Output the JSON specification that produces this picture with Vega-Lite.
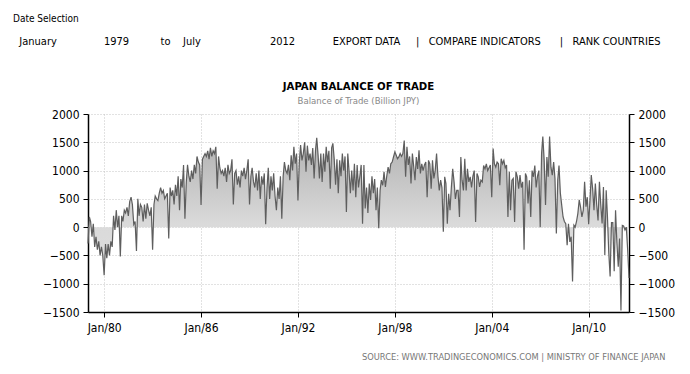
{
  "$schema": "https://vega.github.io/schema/vega-lite/v6.json",
  "background": "white",
  "padding": {"left": 13, "top": 14, "right": 5, "bottom": 5},
  "title": {
    "text": "Date Selection",
    "subtitle": "\u200b\u00a0\u00a0January\u00a0\u00a0\u00a0\u00a0\u00a0\u00a0\u00a0\u00a0\u00a0\u00a0\u00a0\u00a0\u00a0\u00a0\u00a01979\u00a0\u00a0\u00a0\u00a0\u00a0\u00a0\u00a0\u00a0\u00a0\u00a0to\u00a0\u00a0\u00a0\u00a0July\u00a0\u00a0\u00a0\u00a0\u00a0\u00a0\u00a0\u00a0\u00a0\u00a0\u00a0\u00a0\u00a0\u00a0\u00a0\u00a0\u00a0\u00a0\u00a0\u00a0\u00a0\u00a02012\u00a0\u00a0\u00a0\u00a0\u00a0\u00a0\u00a0\u00a0\u00a0\u00a0\u00a0\u00a0EXPORT DATA\u00a0\u00a0\u00a0\u00a0\u00a0|\u00a0\u00a0\u00a0COMPARE INDICATORS\u00a0\u00a0\u00a0\u00a0\u00a0\u00a0|\u00a0\u00a0\u00a0RANK COUNTRIES",
    "anchor": "start",
    "frame": "bounds",
    "font": "Tahoma, DejaVu Sans Condensed, Liberation Sans, sans-serif",
    "fontSize": 10,
    "fontWeight": "normal",
    "color": "#000",
    "subtitleFont": "Tahoma, DejaVu Sans Condensed, Liberation Sans, sans-serif",
    "subtitleFontSize": 11,
    "subtitleColor": "#000",
    "subtitlePadding": 12,
    "offset": 34
  },
  "datasets": {
    "trade": [
      {"m":"1979-01","v":-290},{"m":"1979-02","v":180},{"m":"1979-03","v":100},{"m":"1979-04","v":-170},{"m":"1979-05","v":60},{"m":"1979-06","v":-350},{"m":"1979-07","v":-170},{"m":"1979-08","v":-400},{"m":"1979-09","v":-250},{"m":"1979-10","v":-500},{"m":"1979-11","v":-350},{"m":"1979-12","v":-500},
      {"m":"1980-01","v":-850},{"m":"1980-02","v":-300},{"m":"1980-03","v":-550},{"m":"1980-04","v":-300},{"m":"1980-05","v":-500},{"m":"1980-06","v":-250},{"m":"1980-07","v":-350},{"m":"1980-08","v":200},{"m":"1980-09","v":-50},{"m":"1980-10","v":300},{"m":"1980-11","v":0},{"m":"1980-12","v":200},
      {"m":"1981-01","v":-520},{"m":"1981-02","v":200},{"m":"1981-03","v":100},{"m":"1981-04","v":300},{"m":"1981-05","v":250},{"m":"1981-06","v":350},{"m":"1981-07","v":200},{"m":"1981-08","v":450},{"m":"1981-09","v":530},{"m":"1981-10","v":400},{"m":"1981-11","v":50},{"m":"1981-12","v":100},
      {"m":"1982-01","v":-420},{"m":"1982-02","v":500},{"m":"1982-03","v":200},{"m":"1982-04","v":400},{"m":"1982-05","v":350},{"m":"1982-06","v":100},{"m":"1982-07","v":400},{"m":"1982-08","v":150},{"m":"1982-09","v":420},{"m":"1982-10","v":300},{"m":"1982-11","v":200},{"m":"1982-12","v":350},
      {"m":"1983-01","v":-400},{"m":"1983-02","v":400},{"m":"1983-03","v":550},{"m":"1983-04","v":500},{"m":"1983-05","v":470},{"m":"1983-06","v":600},{"m":"1983-07","v":700},{"m":"1983-08","v":600},{"m":"1983-09","v":650},{"m":"1983-10","v":500},{"m":"1983-11","v":550},{"m":"1983-12","v":600},
      {"m":"1984-01","v":-200},{"m":"1984-02","v":700},{"m":"1984-03","v":550},{"m":"1984-04","v":650},{"m":"1984-05","v":400},{"m":"1984-06","v":750},{"m":"1984-07","v":550},{"m":"1984-08","v":900},{"m":"1984-09","v":300},{"m":"1984-10","v":850},{"m":"1984-11","v":700},{"m":"1984-12","v":1100},
      {"m":"1985-01","v":150},{"m":"1985-02","v":800},{"m":"1985-03","v":1100},{"m":"1985-04","v":900},{"m":"1985-05","v":800},{"m":"1985-06","v":1000},{"m":"1985-07","v":850},{"m":"1985-08","v":1100},{"m":"1985-09","v":950},{"m":"1985-10","v":1250},{"m":"1985-11","v":1150},{"m":"1985-12","v":1100},
      {"m":"1986-01","v":390},{"m":"1986-02","v":1200},{"m":"1986-03","v":1250},{"m":"1986-04","v":1300},{"m":"1986-05","v":1250},{"m":"1986-06","v":1350},{"m":"1986-07","v":1200},{"m":"1986-08","v":1400},{"m":"1986-09","v":1250},{"m":"1986-10","v":1350},{"m":"1986-11","v":1300},{"m":"1986-12","v":1420},
      {"m":"1987-01","v":680},{"m":"1987-02","v":1250},{"m":"1987-03","v":1050},{"m":"1987-04","v":950},{"m":"1987-05","v":1000},{"m":"1987-06","v":900},{"m":"1987-07","v":1050},{"m":"1987-08","v":800},{"m":"1987-09","v":1100},{"m":"1987-10","v":950},{"m":"1987-11","v":1000},{"m":"1987-12","v":1200},
      {"m":"1988-01","v":400},{"m":"1988-02","v":950},{"m":"1988-03","v":1000},{"m":"1988-04","v":750},{"m":"1988-05","v":900},{"m":"1988-06","v":700},{"m":"1988-07","v":1000},{"m":"1988-08","v":900},{"m":"1988-09","v":1050},{"m":"1988-10","v":850},{"m":"1988-11","v":1000},{"m":"1988-12","v":1200},
      {"m":"1989-01","v":400},{"m":"1989-02","v":900},{"m":"1989-03","v":1050},{"m":"1989-04","v":800},{"m":"1989-05","v":700},{"m":"1989-06","v":950},{"m":"1989-07","v":650},{"m":"1989-08","v":1000},{"m":"1989-09","v":500},{"m":"1989-10","v":900},{"m":"1989-11","v":750},{"m":"1989-12","v":950},
      {"m":"1990-01","v":50},{"m":"1990-02","v":700},{"m":"1990-03","v":1050},{"m":"1990-04","v":500},{"m":"1990-05","v":900},{"m":"1990-06","v":650},{"m":"1990-07","v":950},{"m":"1990-08","v":550},{"m":"1990-09","v":300},{"m":"1990-10","v":700},{"m":"1990-11","v":500},{"m":"1990-12","v":900},
      {"m":"1991-01","v":150},{"m":"1991-02","v":900},{"m":"1991-03","v":1150},{"m":"1991-04","v":1000},{"m":"1991-05","v":950},{"m":"1991-06","v":1100},{"m":"1991-07","v":830},{"m":"1991-08","v":1270},{"m":"1991-09","v":1000},{"m":"1991-10","v":1420},{"m":"1991-11","v":1120},{"m":"1991-12","v":1300},
      {"m":"1992-01","v":470},{"m":"1992-02","v":1150},{"m":"1992-03","v":1450},{"m":"1992-04","v":1180},{"m":"1992-05","v":1300},{"m":"1992-06","v":1500},{"m":"1992-07","v":980},{"m":"1992-08","v":1440},{"m":"1992-09","v":1180},{"m":"1992-10","v":1300},{"m":"1992-11","v":1100},{"m":"1992-12","v":1400},
      {"m":"1993-01","v":860},{"m":"1993-02","v":1360},{"m":"1993-03","v":1580},{"m":"1993-04","v":1270},{"m":"1993-05","v":860},{"m":"1993-06","v":1300},{"m":"1993-07","v":800},{"m":"1993-08","v":1300},{"m":"1993-09","v":980},{"m":"1993-10","v":1420},{"m":"1993-11","v":1150},{"m":"1993-12","v":1350},
      {"m":"1994-01","v":680},{"m":"1994-02","v":1400},{"m":"1994-03","v":1480},{"m":"1994-04","v":1200},{"m":"1994-05","v":750},{"m":"1994-06","v":1200},{"m":"1994-07","v":600},{"m":"1994-08","v":1180},{"m":"1994-09","v":900},{"m":"1994-10","v":1300},{"m":"1994-11","v":1000},{"m":"1994-12","v":1250},
      {"m":"1995-01","v":270},{"m":"1995-02","v":1300},{"m":"1995-03","v":1000},{"m":"1995-04","v":600},{"m":"1995-05","v":1000},{"m":"1995-06","v":650},{"m":"1995-07","v":1120},{"m":"1995-08","v":530},{"m":"1995-09","v":1100},{"m":"1995-10","v":700},{"m":"1995-11","v":900},{"m":"1995-12","v":1100},
      {"m":"1996-01","v":60},{"m":"1996-02","v":1100},{"m":"1996-03","v":330},{"m":"1996-04","v":700},{"m":"1996-05","v":250},{"m":"1996-06","v":770},{"m":"1996-07","v":480},{"m":"1996-08","v":900},{"m":"1996-09","v":600},{"m":"1996-10","v":850},{"m":"1996-11","v":300},{"m":"1996-12","v":700},
      {"m":"1997-01","v":-20},{"m":"1997-02","v":650},{"m":"1997-03","v":830},{"m":"1997-04","v":740},{"m":"1997-05","v":980},{"m":"1997-06","v":710},{"m":"1997-07","v":900},{"m":"1997-08","v":1060},{"m":"1997-09","v":950},{"m":"1997-10","v":1120},{"m":"1997-11","v":1150},{"m":"1997-12","v":1240},
      {"m":"1998-01","v":1330},{"m":"1998-02","v":1270},{"m":"1998-03","v":1210},{"m":"1998-04","v":1240},{"m":"1998-05","v":1300},{"m":"1998-06","v":1250},{"m":"1998-07","v":1300},{"m":"1998-08","v":1530},{"m":"1998-09","v":890},{"m":"1998-10","v":1420},{"m":"1998-11","v":1100},{"m":"1998-12","v":1250},
      {"m":"1999-01","v":770},{"m":"1999-02","v":1300},{"m":"1999-03","v":1090},{"m":"1999-04","v":830},{"m":"1999-05","v":1240},{"m":"1999-06","v":1030},{"m":"1999-07","v":1360},{"m":"1999-08","v":950},{"m":"1999-09","v":1120},{"m":"1999-10","v":1000},{"m":"1999-11","v":1100},{"m":"1999-12","v":1150},
      {"m":"2000-01","v":530},{"m":"2000-02","v":1180},{"m":"2000-03","v":1120},{"m":"2000-04","v":680},{"m":"2000-05","v":1180},{"m":"2000-06","v":860},{"m":"2000-07","v":1000},{"m":"2000-08","v":1300},{"m":"2000-09","v":900},{"m":"2000-10","v":650},{"m":"2000-11","v":830},{"m":"2000-12","v":700},
      {"m":"2001-01","v":-80},{"m":"2001-02","v":890},{"m":"2001-03","v":770},{"m":"2001-04","v":60},{"m":"2001-05","v":590},{"m":"2001-06","v":300},{"m":"2001-07","v":700},{"m":"2001-08","v":1030},{"m":"2001-09","v":800},{"m":"2001-10","v":500},{"m":"2001-11","v":650},{"m":"2001-12","v":650},
      {"m":"2002-01","v":180},{"m":"2002-02","v":1240},{"m":"2002-03","v":830},{"m":"2002-04","v":650},{"m":"2002-05","v":1210},{"m":"2002-06","v":650},{"m":"2002-07","v":1030},{"m":"2002-08","v":800},{"m":"2002-09","v":890},{"m":"2002-10","v":700},{"m":"2002-11","v":900},{"m":"2002-12","v":1000},
      {"m":"2003-01","v":90},{"m":"2003-02","v":950},{"m":"2003-03","v":890},{"m":"2003-04","v":710},{"m":"2003-05","v":830},{"m":"2003-06","v":800},{"m":"2003-07","v":1090},{"m":"2003-08","v":1030},{"m":"2003-09","v":1120},{"m":"2003-10","v":1000},{"m":"2003-11","v":1050},{"m":"2003-12","v":1100},
      {"m":"2004-01","v":530},{"m":"2004-02","v":1390},{"m":"2004-03","v":1120},{"m":"2004-04","v":1060},{"m":"2004-05","v":1150},{"m":"2004-06","v":1120},{"m":"2004-07","v":740},{"m":"2004-08","v":1210},{"m":"2004-09","v":1120},{"m":"2004-10","v":1180},{"m":"2004-11","v":1050},{"m":"2004-12","v":1100},
      {"m":"2005-01","v":180},{"m":"2005-02","v":980},{"m":"2005-03","v":300},{"m":"2005-04","v":830},{"m":"2005-05","v":860},{"m":"2005-06","v":90},{"m":"2005-07","v":980},{"m":"2005-08","v":890},{"m":"2005-09","v":680},{"m":"2005-10","v":920},{"m":"2005-11","v":700},{"m":"2005-12","v":800},
      {"m":"2006-01","v":-400},{"m":"2006-02","v":950},{"m":"2006-03","v":890},{"m":"2006-04","v":420},{"m":"2006-05","v":830},{"m":"2006-06","v":180},{"m":"2006-07","v":1000},{"m":"2006-08","v":890},{"m":"2006-09","v":1090},{"m":"2006-10","v":700},{"m":"2006-11","v":900},{"m":"2006-12","v":1000},
      {"m":"2007-01","v":0},{"m":"2007-02","v":1300},{"m":"2007-03","v":1600},{"m":"2007-04","v":1180},{"m":"2007-05","v":390},{"m":"2007-06","v":1240},{"m":"2007-07","v":890},{"m":"2007-08","v":1600},{"m":"2007-09","v":1060},{"m":"2007-10","v":920},{"m":"2007-11","v":1150},{"m":"2007-12","v":860},
      {"m":"2008-01","v":-110},{"m":"2008-02","v":830},{"m":"2008-03","v":1090},{"m":"2008-04","v":600},{"m":"2008-05","v":390},{"m":"2008-06","v":180},{"m":"2008-07","v":100},{"m":"2008-08","v":60},{"m":"2008-09","v":-320},{"m":"2008-10","v":60},{"m":"2008-11","v":-260},{"m":"2008-12","v":-170},
      {"m":"2009-01","v":-960},{"m":"2009-02","v":35},{"m":"2009-03","v":0},{"m":"2009-04","v":100},{"m":"2009-05","v":240},{"m":"2009-06","v":480},{"m":"2009-07","v":360},{"m":"2009-08","v":180},{"m":"2009-09","v":300},{"m":"2009-10","v":800},{"m":"2009-11","v":360},{"m":"2009-12","v":530},
      {"m":"2010-01","v":50},{"m":"2010-02","v":500},{"m":"2010-03","v":920},{"m":"2010-04","v":680},{"m":"2010-05","v":300},{"m":"2010-06","v":770},{"m":"2010-07","v":400},{"m":"2010-08","v":120},{"m":"2010-09","v":800},{"m":"2010-10","v":400},{"m":"2010-11","v":65},{"m":"2010-12","v":710},
      {"m":"2011-01","v":-490},{"m":"2011-02","v":650},{"m":"2011-03","v":200},{"m":"2011-04","v":-460},{"m":"2011-05","v":-870},{"m":"2011-06","v":80},{"m":"2011-07","v":80},{"m":"2011-08","v":-780},{"m":"2011-09","v":300},{"m":"2011-10","v":-270},{"m":"2011-11","v":-700},{"m":"2011-12","v":-200},
      {"m":"2012-01","v":-1475},{"m":"2012-02","v":30},{"m":"2012-03","v":20},{"m":"2012-04","v":-50},{"m":"2012-05","v":0},{"m":"2012-06","v":-400},{"m":"2012-07","v":-900}
    ]
  },
  "vconcat": [
    {
      "width": 541,
      "height": 198,
      "title": {
        "text": "JAPAN BALANCE OF TRADE",
        "subtitle": "Balance of Trade (Billion JPY)",
        "anchor": "middle",
        "frame": "group",
        "font": "Tahoma, DejaVu Sans Condensed, Liberation Sans, sans-serif",
        "fontSize": 11.3,
        "fontWeight": "bold",
        "color": "#000",
        "subtitleFont": "Tahoma, DejaVu Sans Condensed, Liberation Sans, sans-serif",
        "subtitleFontSize": 9.5,
        "subtitleColor": "#888",
        "subtitlePadding": 3,
        "offset": 3
      },
      "data": {"name": "trade"},
      "layer": [
        {
          "mark": {
            "type": "area",
            "line": false,
            "color": {
              "gradient": "linear",
              "x1": 0, "y1": 0, "x2": 0, "y2": 1,
              "stops": [
                {"offset": 0, "color": "#b0b0b0"},
                {"offset": 0.5, "color": "#dadada"},
                {"offset": 1, "color": "#e2e2e2"}
              ]
            }
          },
          "encoding": {
            "x": {
              "field": "m", "type": "temporal",
              "scale": {"type": "utc", "domain": [{"year": 1979, "month": 1, "date": 1, "utc": true}, {"year": 2012, "month": 7, "date": 1, "utc": true}], "nice": false},
              "axis": {
                "values": [
                  {"year": 1980, "month": 1, "date": 1, "utc": true},
                  {"year": 1986, "month": 1, "date": 1, "utc": true},
                  {"year": 1992, "month": 1, "date": 1, "utc": true},
                  {"year": 1998, "month": 1, "date": 1, "utc": true},
                  {"year": 2004, "month": 1, "date": 1, "utc": true},
                  {"year": 2010, "month": 1, "date": 1, "utc": true}
                ],
                "format": "%b/%y",
                "grid": true,
                "title": "SOURCE:  WWW.TRADINGECONOMICS.COM  |  MINISTRY OF FINANCE JAPAN",
                "titleAnchor": "end",
                "titleAlign": "right",
                "titleX": 577,
                "titleFont": "DejaVu Sans, sans-serif",
                "titleFontSize": 8.3,
                "titleFontWeight": "normal",
                "titleColor": "#777",
                "titlePadding": 19,
                "labelPadding": 5
              }
            },
            "y": {
              "field": "v", "type": "quantitative",
              "scale": {"domain": [-1500, 2000], "nice": false, "zero": false},
              "axis": {"values": [-1500, -1000, -500, 0, 500, 1000, 1500, 2000], "format": "d", "grid": true, "title": null, "orient": "left", "labelPadding": 4, "minExtent": 75}
            },
            "y2": {"datum": 0}
          }
        },
        {
          "mark": {"type": "line", "color": "#5e5e5e", "strokeWidth": 1.2},
          "encoding": {
            "x": {"field": "m", "type": "temporal"},
            "y": {
              "field": "v", "type": "quantitative",
              "axis": {"values": [-1500, -1000, -500, 0, 500, 1000, 1500, 2000], "format": "d", "grid": false, "title": null, "orient": "right", "labelPadding": 4}
            }
          }
        }
      ],
      "resolve": {"axis": {"y": "independent"}}
    }
  ],
  "config": {
    "view": {"stroke": null},
    "axis": {
      "domainColor": "#000",
      "domainWidth": 1.5,
      "tickColor": "#000",
      "tickSize": 5,
      "labelColor": "#000",
      "labelFont": "Tahoma, DejaVu Sans Condensed, Liberation Sans, sans-serif",
      "labelFontSize": 12,
      "gridColor": "#c4c4c4",
      "gridDash": [1, 2]
    }
  }
}
